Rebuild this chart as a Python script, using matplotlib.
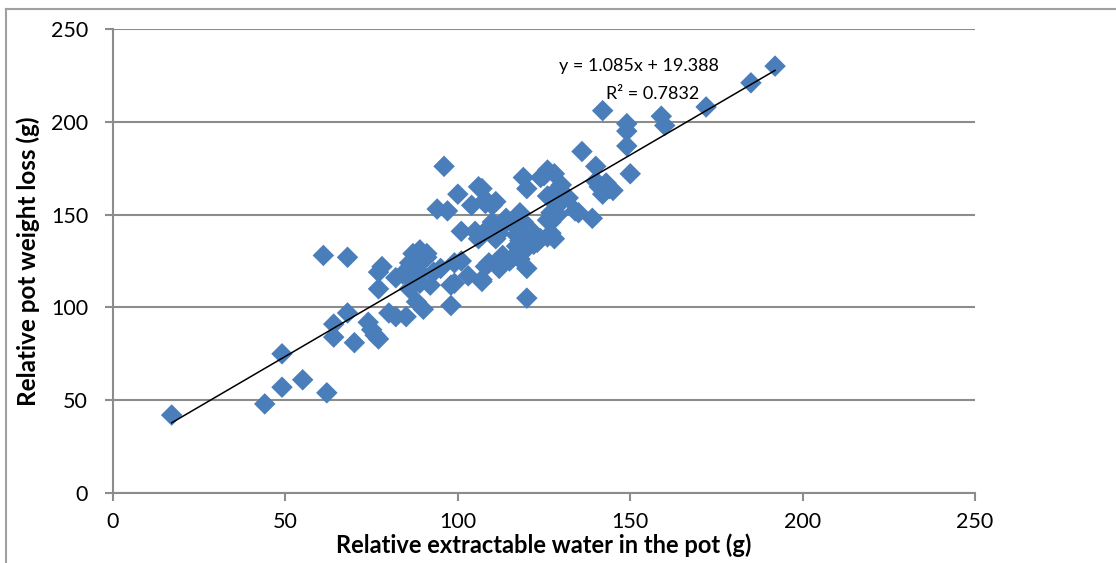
import matplotlib.pyplot as plt
import numpy as np
from matplotlib.lines import Line2D

# values
water = [17, 44, 49, 49, 55, 62, 61, 68, 64, 64, 68, 70, 74, 75, 76, 77, 77, 77, 78, 80,
         82, 85, 82, 84, 86, 85, 87, 88, 89, 89, 90, 90, 91, 92, 93, 94, 97, 96, 98, 98,
         99, 100, 101, 101, 103, 104, 106, 107, 106, 108, 110, 108, 110, 109, 112, 114, 115, 116, 118, 118,
         119, 120, 120, 120, 120, 121, 123, 125, 126, 126, 127, 128, 128, 126, 128, 129, 130, 132, 134, 136,
         139, 140, 140, 141, 142, 143, 144, 149, 149, 149, 150, 159, 160, 172, 185, 192,
         86, 87, 88, 89, 91, 95, 99, 105, 107, 111, 111, 112, 113, 114, 116, 117, 118, 119, 119, 121,
         122, 124, 126, 127, 129, 131, 145, 142, 107, 108, 111, 124, 127, 130, 135, 110, 112, 117, 119, 109, 118, 107]
loss = [42, 48, 57, 75, 61, 54, 128, 127, 91, 84, 97, 81, 92, 88, 85, 83, 110, 119, 122, 97,
        95, 95, 116, 118, 124, 119, 129, 103, 113, 131, 99, 126, 129, 112, 119, 153, 152, 176, 101, 112,
        124, 161, 141, 125, 117, 155, 165, 114, 137, 156, 155, 122, 139, 143, 142, 146, 125, 127, 151, 142,
        170, 164, 105, 121, 134, 136, 135, 171, 174, 160, 151, 172, 137, 138, 162, 155, 166, 159, 152, 184,
        148, 168, 176, 165, 206, 167, 164, 199, 195, 187, 172, 203, 198, 208, 221, 230,
        110, 114, 121, 118, 127, 121, 113, 141, 139, 137, 124, 121, 128, 148, 145, 139, 136, 130, 146, 142,
        134, 137, 147, 140, 150, 160, 163, 161, 164, 158, 157, 170, 146, 160, 151, 146, 140, 133, 133, 124, 126, 115]

slope = 1.085
intercept = 19.388
r2 = 0.7832

plt.rcParams['font.family'] = ['Lato', 'DejaVu Sans']

fig = plt.figure(figsize=(11.16, 5.63), dpi=100)
ax = fig.add_axes([0.1013, 0.1243, 0.7724, 0.8242])

ax.scatter(water, loss, marker='D', s=120, color='#4A7EBB', edgecolors='none', zorder=3)

# linear trendline over data range
xs = np.array([min(water), max(water)])
ax.plot(xs, slope * xs + intercept, color='black', lw=1.1, zorder=4)

ax.annotate(f"y = {slope}x + {intercept}", xy=(152.5, 230), ha='center', va='center', fontsize=13, zorder=5)
ax.annotate(f"R² = {r2}", xy=(156.5, 215), ha='center', va='center', fontsize=13, zorder=5)

ax.set_xlim(0, 250)
ax.set_ylim(0, 250)
ax.set_xticks(range(0, 251, 50))
ax.set_yticks(range(0, 251, 50))
ax.grid(axis='y', color='#8c8c8c', lw=1.5)
ax.set_axisbelow(True)

for side in ['top', 'right']:
    ax.spines[side].set_visible(False)
for side in ['left', 'bottom']:
    ax.spines[side].set_color('#8c8c8c')
    ax.spines[side].set_linewidth(1.5)
ax.tick_params(axis='both', colors='#8c8c8c', labelcolor='black', labelsize=15.5,
               length=6, width=1.5, direction='out')
ax.tick_params(axis='y', pad=12)
ax.tick_params(axis='x', pad=8)

ax.set_xlabel('Relative extractable water in the pot (g)', fontsize=17, fontweight='bold', labelpad=1)
ax.set_ylabel('Relative pot weight loss (g)', fontsize=17.5, fontweight='bold', labelpad=8)

# thin frame at the left and top of the picture
fig.add_artist(Line2D([6 / 1116, 6 / 1116], [0, 1 - 9 / 563], transform=fig.transFigure, color='#a0a0a0', lw=1.5))
fig.add_artist(Line2D([6 / 1116, 1], [1 - 9 / 563, 1 - 9 / 563], transform=fig.transFigure, color='#a0a0a0', lw=1.5))

fig.savefig('out.png', dpi=100)
